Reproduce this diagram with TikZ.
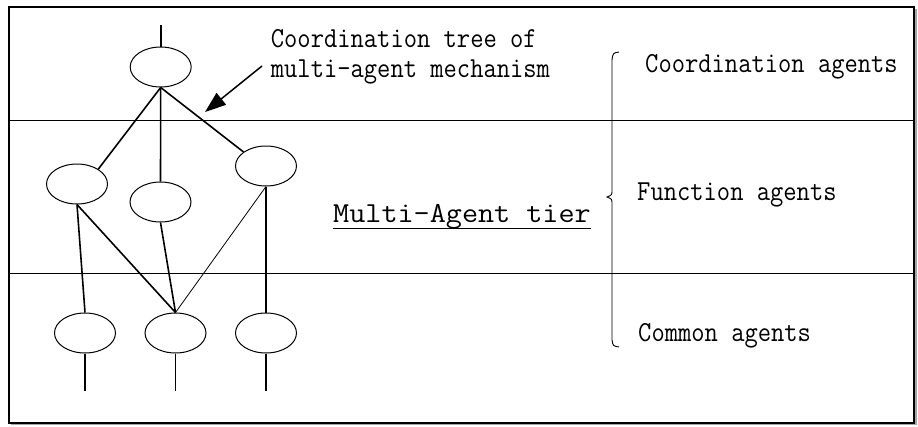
\documentclass[tikz,border=0pt]{standalone}
\usepackage{fontspec}
\usetikzlibrary{shapes.geometric,arrows.meta}
\newfontfamily\lblfont[FakeStretch=0.89]{Latin Modern Mono}
\newfontfamily\tierfont[FakeStretch=1.078]{Latin Modern Mono}
\tikzset{
  agent/.style={draw, ellipse, line width=1pt, minimum width=61pt, minimum height=40pt, inner sep=0pt},
  link/.style={line width=1.6pt},
  thinlink/.style={line width=0.8pt},
  tierline/.style={line width=0.9pt},
  lbl/.style={anchor=base west, inner sep=0pt, font=\lblfont\fontsize{29}{30}\selectfont},
}
\begin{document}
\begin{tikzpicture}[x=1pt, y=-1pt]
\useasboundingbox (0,0) rectangle (918,426);
% frame with a light drop shadow
\fill[gray!70] (11,9) rectangle (917,425);
\draw[line width=1.1pt, fill=white] (9,7) rectangle (914,423);
% tier separators
\draw[tierline] (9,120) -- (914,120);
\draw[tierline] (9,273) -- (914,273);

% agents
\node[agent] (T)  at (160.7,67) {};
\node[agent] (F1) at (77,184) {};
\node[agent] (F2) at (160.5,202) {};
\node[agent] (F3) at (266,166) {};
\node[agent] (B1) at (85,333) {};
\node[agent] (B2) at (175.5,333) {};
\node[agent] (B3) at (266,333) {};

% open ends of the tree
\coordinate (Ttop) at (160.7,25);
\coordinate (B1end) at (85,391);
\coordinate (B2end) at (175.5,391);
\coordinate (B3end) at (266,391);
\draw[link] (Ttop) -- (T.north);
\draw[link] (B1.south) -- (B1end);
\draw[link] (B2.south) -- (B2end);
\draw[link] (B3.south) -- (B3end);

% coordination links
\draw[link] (T.south) -- (F1.35);
\draw[link] (T.south) -- (F2.north);
\draw[link] (T.south) -- (F3.148);
\draw[link] (F1.south) -- (B1.north);
\draw[link] (F1.south) -- (B2.north);
\draw[link] (F2.south) -- (B2.north);
\draw[thinlink] (F3.south) -- (B2.north);
\draw[link] (F3.south) -- (B3.north);

% caption of the tree with its pointer
\node[lbl] (cap1) at (270.7,47) {Coordination tree of};
\node[lbl] (cap2) at (270.7,77) {multi-agent mechanism};
\coordinate (arrowTail) at (262,66);
\coordinate (arrowTip) at (205,112);
\draw[line width=1.5pt, -{Triangle[length=21pt,width=15pt]}] (arrowTail) -- (arrowTip);

% tier title
\node[anchor=base west, inner sep=0pt, font=\tierfont\fontsize{29}{30}\selectfont] (tier) at (333,222) {Multi-Agent tier};
\draw[line width=1pt] ([yshift=-6pt]tier.base west) -- ([yshift=-6pt]tier.base east);

% brace grouping the agent kinds
\coordinate (braceTop) at (619,52);
\coordinate (braceTip) at (607,197);
\coordinate (braceBot) at (619,347);
\draw[line width=0.9pt] (braceTop) .. controls (613,53) .. (612,60) -- (612,190)
  .. controls (612,195) .. (braceTip) .. controls (612,199) .. (612,204)
  -- (612,340) .. controls (613,346) .. (braceBot);

\node[lbl] (coord) at (645,72) {Coordination agents};
\node[lbl] (func)  at (637,200) {Function agents};
\node[lbl] (comm)  at (638,341.5) {Common agents};
\end{tikzpicture}
\end{document}
